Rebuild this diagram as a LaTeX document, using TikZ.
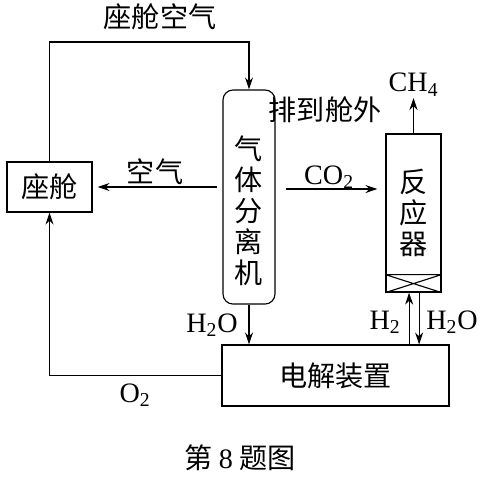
\documentclass[tikz,border=0pt]{standalone}
\usepackage{fontspec}
\setmainfont{Liberation Serif}
\newfontfamily\cjk{Noto Sans CJK SC}
\usetikzlibrary{arrows.meta,positioning}

\begin{document}
\begin{tikzpicture}[x=0.025cm, y=-0.025cm, line width=0.8pt,
  >={Stealth[length=0.3cm,width=0.2cm]},
  box/.style={draw, inner sep=0pt},
  txt/.style={font=\fontsize{20}{22}\selectfont\cjk, inner sep=1pt},
  chem/.style={font=\fontsize{20}{22}\selectfont, inner sep=1pt}]
\useasboundingbox (0,0) rectangle (480,476);

% units: one pixel of the reference
\node[box, txt, minimum width=2.125cm, minimum height=1.25cm] (cabin) at (49.5,187) {座舱};
\node[box, rounded corners=0.25cm, minimum width=1.3cm, minimum height=5.35cm] (sep) at (249,197) {};
\node[txt, align=center] (septext) at (249,211) {气\\体\\分\\离\\机};
\node[box, txt, align=center, minimum width=1.375cm, minimum height=3.95cm] (reactor) at (413.5,213) {反\\应\\器};
\node[box, txt, minimum width=5.675cm, minimum height=1.525cm] (elec) at (335.5,375.5) {电解装置};

\node[txt] (cabinair) at (160,17) {座舱空气};
\node[txt] (vent) at (325,110) {排到舱外};
\node[txt] (air) at (155,172) {空气};
\node[chem] (co2) at (329,177) {CO\textsubscript{2}};
\node[chem, anchor=south] (ch4) at (413.5,98) {CH\textsubscript{4}};
\node[chem] (h2oa) at (212,325) {H\textsubscript{2}O};
\node[chem] (h2) at (385,322) {H\textsubscript{2}};
\node[chem] (h2ob) at (452,322) {H\textsubscript{2}O};
\node[chem] (o2) at (135,395) {O\textsubscript{2}};
\node[txt] (caption) at (240,458) {第~{\rmfamily 8}~题图};

% catalyst bed at the foot of the reactor
\draw ([yshift=0.45cm]reactor.south west) -- ([yshift=0.45cm]reactor.south east)
      (reactor.south west) -- ([yshift=0.45cm]reactor.south east)
      ([yshift=0.45cm]reactor.south west) -- (reactor.south east);

\draw[->] (cabin.north) |- (sep.north |- 0,42) -- (sep.north);
\draw[->, shorten <=0.125cm, shorten >=0.125cm] (sep.west |- cabin.east) -- (cabin.east);
\draw[->, shorten <=0.25cm, shorten >=0.2cm] (sep.east |- 0,189) -- (reactor.west |- 0,189);
\draw[->] (reactor.north) -- (ch4.south);

\coordinate (h2top) at ([xshift=-0.11cm]reactor.south);
\coordinate (h2otop) at ([xshift=0.14cm]reactor.south);
\draw[->] (h2top |- elec.north) -- (h2top);
\draw[->] (h2otop) -- (h2otop |- elec.north);
\draw[->] (sep.south) -- (sep.south |- elec.north);
\draw[->] (elec.west) -| (cabin.south);
\end{tikzpicture}
\end{document}
